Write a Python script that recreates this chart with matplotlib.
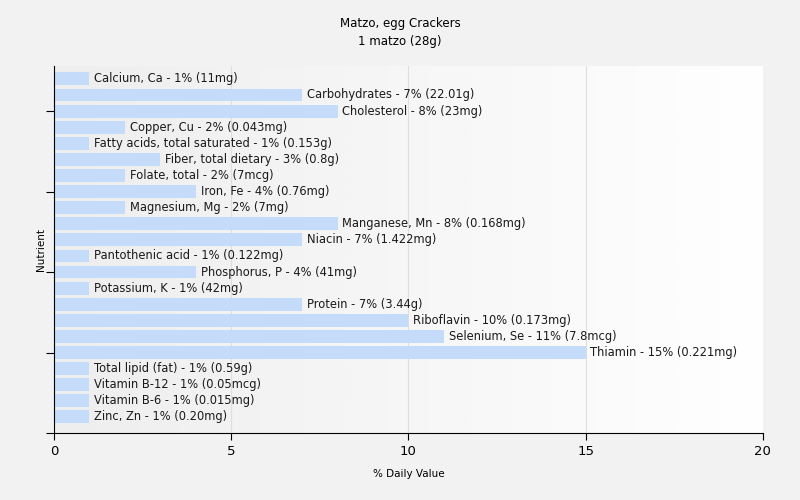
import numpy as np
import matplotlib
matplotlib.use("Agg")
import matplotlib.pyplot as plt

nutrients = [
    "Calcium, Ca", "Carbohydrates", "Cholesterol", "Copper, Cu",
    "Fatty acids, total saturated", "Fiber, total dietary", "Folate, total",
    "Iron, Fe", "Magnesium, Mg", "Manganese, Mn", "Niacin", "Pantothenic acid",
    "Phosphorus, P", "Potassium, K", "Protein", "Riboflavin", "Selenium, Se",
    "Thiamin", "Total lipid (fat)", "Vitamin B-12", "Vitamin B-6", "Zinc, Zn",
]
daily_pct = [1, 7, 8, 2, 1, 3, 2, 4, 2, 8, 7, 1, 4, 1, 7, 10, 11, 15, 1, 1, 1, 1]
amounts = [
    "11mg", "22.01g", "23mg", "0.043mg", "0.153g", "0.8g", "7mcg", "0.76mg",
    "7mg", "0.168mg", "1.422mg", "0.122mg", "41mg", "42mg", "3.44g", "0.173mg",
    "7.8mcg", "0.221mg", "0.59g", "0.05mcg", "0.015mg", "0.20mg",
]

fig = plt.figure(figsize=(8, 5), dpi=100, facecolor="#f2f2f2")
ax = fig.add_axes([0.0675, 0.134, 0.886, 0.734])

# soft left-to-right gradient behind the bars
grad = np.linspace(0, 1, 512).reshape(1, -1)
bg_cmap = matplotlib.colors.LinearSegmentedColormap.from_list("bg", ["#eeeeee", "#ffffff"])
ax.imshow(grad, extent=[0, 1, 0, 1], transform=ax.transAxes, aspect="auto",
          cmap=bg_cmap, interpolation="bilinear", zorder=0)

y = np.arange(len(nutrients))
ax.barh(y, daily_pct, height=0.8, color="#c4dcfa", zorder=2)

for yi, name, v, amt in zip(y, nutrients, daily_pct, amounts):
    ax.annotate(f"{name} - {v}% ({amt})", (v, yi), xytext=(3.5, 0),
                textcoords="offset points", va="center", ha="left",
                fontsize=8.3, color="#1a1a1a", zorder=3)

ax.set_xlim(0, 20)
ax.set_ylim(22, -0.8)
ax.set_xticks([0, 5, 10, 15, 20])
ax.set_yticks([2, 7, 12, 17, 22])
ax.set_yticklabels([])
ax.tick_params(axis="x", labelsize=9.5, length=5)
ax.tick_params(axis="y", length=6)

ax.grid(axis="x", color="#dedede", linewidth=0.8, zorder=1)
ax.set_axisbelow(True)

for s in ["top", "right"]:
    ax.spines[s].set_visible(False)

ax.set_xlabel("% Daily Value", fontsize=7.5, labelpad=8)
ax.set_ylabel("Nutrient", fontsize=7.5, labelpad=-4)
fig.suptitle("Matzo, egg Crackers\n1 matzo (28g)", fontsize=8.5, y=0.965, linespacing=1.5)

fig.savefig("out.png", dpi=100, facecolor=fig.get_facecolor())
